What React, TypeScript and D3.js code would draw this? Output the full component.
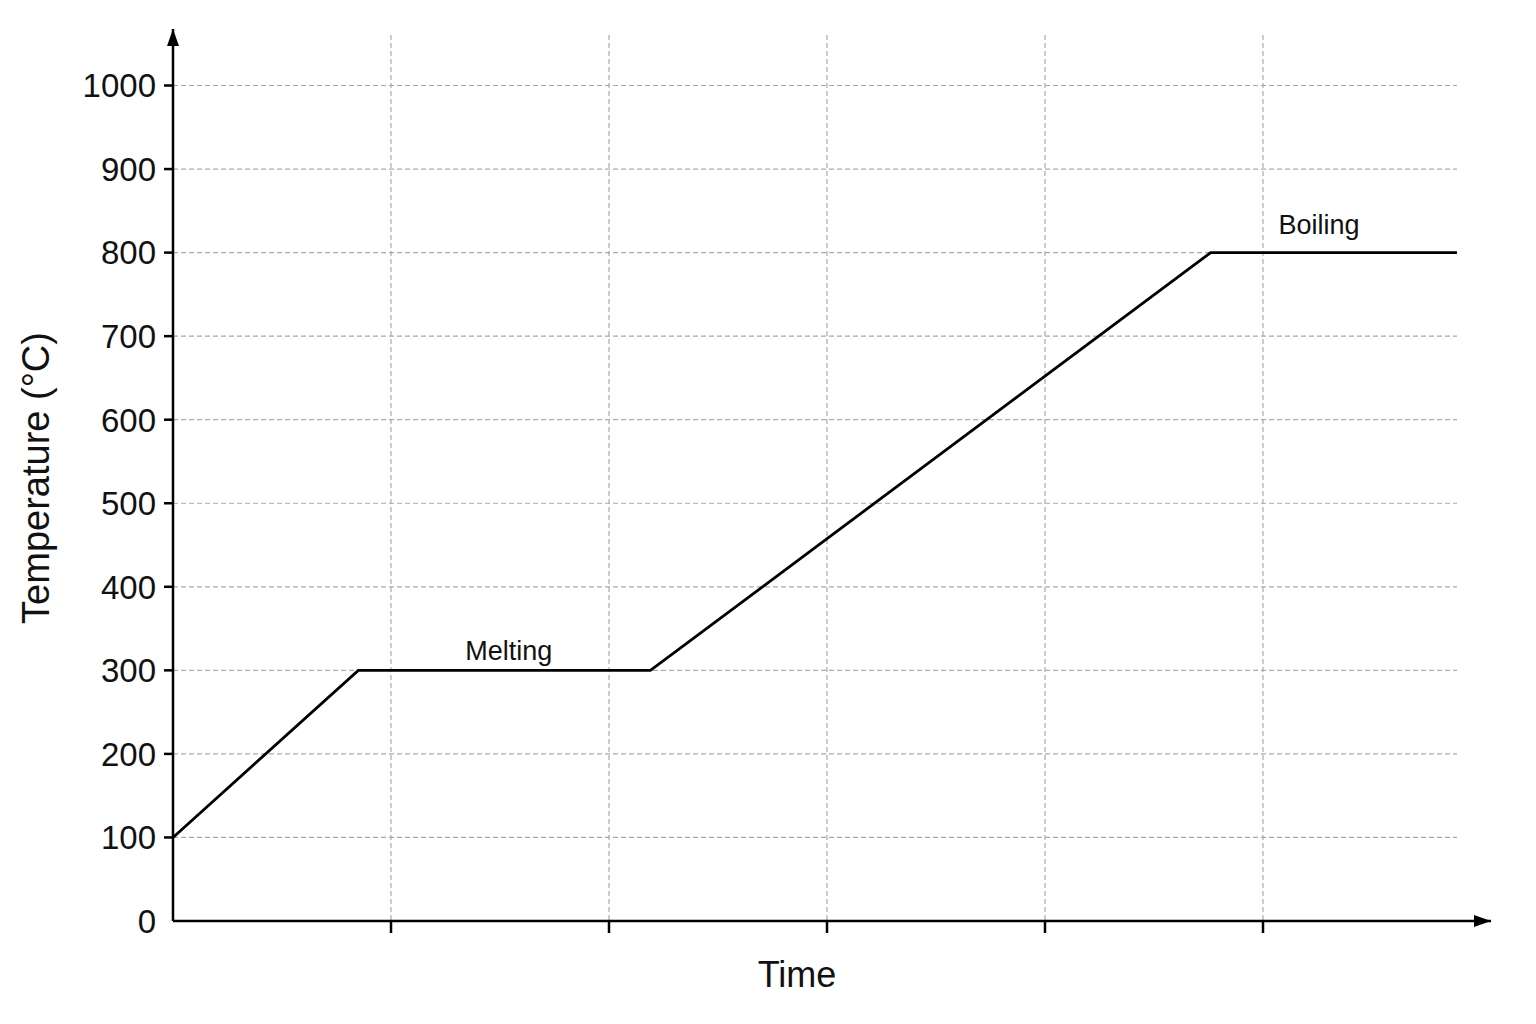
import React, { useEffect, useRef } from 'react';
import * as d3 from 'd3';

// heating curve: time (grid units) vs temperature
const times = [0, 0.85, 2.19, 4.76, 5.89];
const temps = [100, 300, 300, 800, 800];
const yTicks = [0, 100, 200, 300, 400, 500, 600, 700, 800, 900, 1000];
const xTicks = [1, 2, 3, 4, 5];
const phaseLabels = ['Melting', 'Boiling'];
const phaseX = [1.54, 5.257];
const phaseY = [312, 822];

const W = 1536;
const H = 1024;
const FONT = '"Liberation Sans", Arial, sans-serif';

export default function App() {
  const svgRef = useRef<SVGSVGElement>(null);

  useEffect(() => {
    document.body.style.margin = '0';
    if (!svgRef.current) return;

    const svg = d3.select(svgRef.current);
    svg.selectAll('*').remove();

    const left = 173;
    const bottom = 921;
    const x = d3.scaleLinear().domain([0, 6]).range([left, left + 6 * 218]);
    const y = d3.scaleLinear().domain([0, 1000]).range([bottom, 85.5]);
    const xEnd = x(times[times.length - 1]);

    svg.append('rect').attr('width', W).attr('height', H).attr('fill', '#fff');

    const defs = svg.append('defs');
    defs.append('marker')
      .attr('id', 'arrow')
      .attr('viewBox', '0 0 17 12')
      .attr('refX', 17)
      .attr('refY', 6)
      .attr('markerWidth', 17)
      .attr('markerHeight', 12)
      .attr('markerUnits', 'userSpaceOnUse')
      .attr('orient', 'auto')
      .append('path')
      .attr('d', 'M0,0 L17,6 L0,12 Z')
      .attr('fill', '#000');

    // grid
    const grid = svg.append('g')
      .attr('stroke', '#aaa')
      .attr('stroke-width', 1.2)
      .attr('stroke-dasharray', '5,3');
    grid.selectAll('line.h')
      .data(yTicks.filter(d => d > 0))
      .join('line')
      .attr('class', 'h')
      .attr('x1', left)
      .attr('x2', xEnd)
      .attr('y1', d => y(d))
      .attr('y2', d => y(d));
    grid.selectAll('line.v')
      .data(xTicks)
      .join('line')
      .attr('class', 'v')
      .attr('x1', d => x(d))
      .attr('x2', d => x(d))
      .attr('y1', 35)
      .attr('y2', bottom);

    // axes
    svg.append('line')
      .attr('x1', left).attr('x2', 1491)
      .attr('y1', bottom).attr('y2', bottom)
      .attr('stroke', '#000').attr('stroke-width', 2.5)
      .attr('marker-end', 'url(#arrow)');
    svg.append('line')
      .attr('x1', left).attr('x2', left)
      .attr('y1', bottom).attr('y2', 29)
      .attr('stroke', '#000').attr('stroke-width', 2.5)
      .attr('marker-end', 'url(#arrow)');

    svg.append('g')
      .selectAll('line')
      .data(xTicks)
      .join('line')
      .attr('x1', d => x(d)).attr('x2', d => x(d))
      .attr('y1', bottom).attr('y2', bottom + 12)
      .attr('stroke', '#000').attr('stroke-width', 2.5);

    const yt = svg.append('g');
    yt.selectAll('line')
      .data(yTicks.filter(d => d > 0))
      .join('line')
      .attr('x1', left - 9).attr('x2', left)
      .attr('y1', d => y(d)).attr('y2', d => y(d))
      .attr('stroke', '#000').attr('stroke-width', 2.5);
    yt.selectAll('text')
      .data(yTicks)
      .join('text')
      .attr('x', 156)
      .attr('y', d => y(d))
      .attr('dy', '0.36em')
      .attr('text-anchor', 'end')
      .attr('font-family', FONT)
      .attr('font-size', 33)
      .attr('fill', '#111')
      .text(d => d);

    // curve
    const pts = times.map((t, i) => [t, temps[i]] as [number, number]);
    svg.append('path')
      .datum(pts)
      .attr('fill', 'none')
      .attr('stroke', '#000')
      .attr('stroke-width', 2.8)
      .attr('stroke-linejoin', 'miter')
      .attr('d', d3.line<[number, number]>().x(d => x(d[0])).y(d => y(d[1])));

    // phase labels
    svg.append('g')
      .selectAll('text')
      .data(phaseLabels)
      .join('text')
      .attr('x', (_, i) => x(phaseX[i]))
      .attr('y', (_, i) => y(phaseY[i]))
      .attr('text-anchor', 'middle')
      .attr('font-family', FONT)
      .attr('font-size', 27)
      .attr('fill', '#111')
      .text(d => d);

    // axis titles
    svg.append('text')
      .attr('x', 797).attr('y', 987)
      .attr('text-anchor', 'middle')
      .attr('font-family', FONT)
      .attr('font-size', 36)
      .attr('fill', '#111')
      .text('Time');
    svg.append('text')
      .attr('transform', 'translate(49,478) rotate(-90)')
      .attr('text-anchor', 'middle')
      .attr('font-family', FONT)
      .attr('font-size', 38)
      .attr('fill', '#111')
      .text('Temperature (°C)');
  }, []);

  return <svg ref={svgRef} width={W} height={H} style={{ display: 'block' }} />;
}
